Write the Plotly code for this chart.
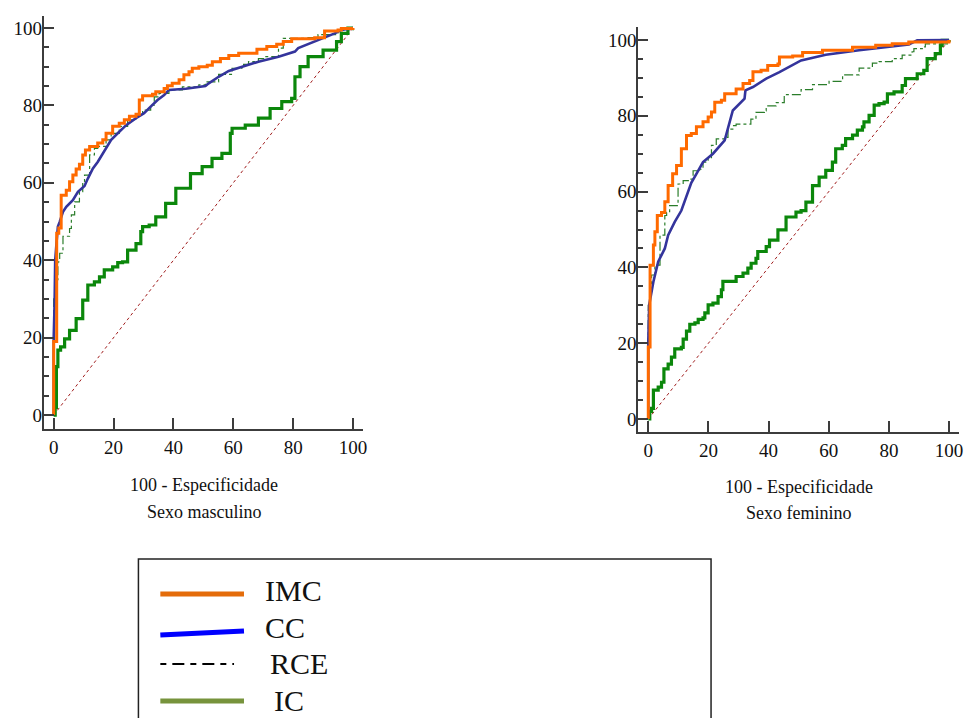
import plotly.graph_objects as go

# ---------------- data (sensitivity vs 100 - specificity) ----------------
tick_vals = [0, 20, 40, 60, 80, 100]
series_names = ["IMC", "CC", "RCE", "IC"]
diag_x = [0, 100]
diag_y = [0, 100]

# Sexo masculino
masc_imc_x = [0, 0, 1.0, 1.0, 1.7, 2.5, 4.2, 5.3, 6.4, 7.5, 8.6, 9.7, 10.6, 12.0, 14.7, 16.4, 17.5, 19.7, 21.9, 23.6,
              25.3, 27.5, 28.6, 29.7, 33.0, 34.1, 36.9, 38.0, 39.6, 41.9, 43.5, 45.2, 46.3, 48.5, 51.3, 53.0, 55.7, 58.5,
              61.8, 67.9, 71.2, 74.5, 76.7, 79.5, 87.2, 90.5, 95.0, 96.1, 100]
masc_imc_y = [0, 19, 19, 47, 48.3, 56.8, 58.1, 60.3, 62.0, 63.6, 64.8, 67.2, 68.5, 69.4, 70.3, 71.1, 72.8, 74.6, 75.4, 76.3,
              77.2, 77.7, 81.4, 82.5, 82.9, 83.5, 84.4, 85.1, 85.7, 86.6, 87.9, 88.7, 89.6, 90.0, 90.4, 91.3, 92.1, 92.9,
              93.5, 94.5, 95.2, 95.8, 96.5, 97.2, 97.5, 99.2, 99.5, 99.9, 100]
masc_cc_x = [0, 0, 0.3, 0.5, 1.0, 1.4, 2.0, 3.1, 4.2, 6.4, 8.1, 10.3, 11.4, 13.1, 14.7, 16.4, 18.1, 19.2, 21.4, 24.2,
             27.5, 30.2, 32.4, 34.7, 36.9, 38.5, 44.1, 50.7, 51.8, 55.1, 58.5, 62.9, 68.4, 75.1, 80.6, 81.7, 87.2, 93.9,
             96.1, 100]
masc_cc_y = [0, 20, 29, 40, 45, 48.7, 49.9, 52.5, 53.8, 55.5, 57.7, 59.2, 61.1, 63.7, 65.4, 67.6, 69.7, 71.1, 72.8, 74.9,
             76.7, 78.0, 79.7, 81.4, 82.7, 84.0, 84.3, 85.0, 85.7, 87.4, 88.9, 90.0, 91.3, 92.6, 93.9, 94.8, 96.5, 98.6,
             99.5, 100]
masc_rce_x = [0, 0, 0.3, 1.4, 2.0, 3.1, 3.1, 5.3, 5.9, 7.0, 8.6, 9.7, 10.3, 12.0, 13.6, 14.7, 17.5, 19.2, 21.9, 24.7,
              27.5, 29.7, 32.4, 33.6, 35.2, 38.5, 43.0, 48.5, 50.7, 55.1, 59.6, 62.9, 65.1, 68.4, 70.6, 75.1, 76.7, 85.0,
              88.3, 95.0, 100]
masc_rce_y = [0, 30, 35, 39.6, 41.8, 42.2, 46.2, 48.2, 51.7, 55.1, 57.7, 60.3, 62.0, 67.2, 68.9, 69.4, 71.1, 72.8, 74.6,
              76.3, 77.5, 78.8, 80.1, 82.2, 83.1, 84.0, 84.8, 85.3, 86.1, 88.0, 89.6, 90.6, 91.3, 92.1, 92.6, 94.8, 97.3,
              97.5, 98.3, 99.5, 100]
masc_ic_x = [0, 0.5, 0.9, 1.4, 2.3, 3.65, 5.3, 7.5, 9.7, 11.4, 13.6, 15.3, 16.9, 19.7, 21.4, 23.0, 24.7, 27.5, 29.1, 29.7,
             31.9, 34.1, 37.4, 40.8, 45.7, 49.6, 52.9, 56.2, 59.0, 59.6, 64.0, 68.4, 72.3, 76.2, 79.5, 80.6, 82.3, 85.0,
             90.0, 94.5, 96.1, 98.3, 100]
masc_ic_y = [0, 2, 12.5, 16.8, 17.6, 19.7, 21.9, 24.9, 29.7, 33.6, 34.4, 35.7, 37.5, 38.3, 39.4, 39.6, 42.6, 44.3, 47.4,
             48.7, 49.1, 51.2, 54.7, 58.6, 62.4, 64.2, 66.3, 67.6, 72.8, 74.1, 74.9, 76.7, 79.2, 81.0, 81.8, 87.4, 90.0,
             92.6, 94.3, 96.5, 98.6, 100, 100]

# Sexo feminino
fem_imc_x = [0, 0, 0.6, 0.6, 1.7, 2.2, 3.0, 4.4, 5.5, 6.6, 8.1, 9.4, 11.0, 12.7, 14.3, 16.0, 18.2, 19.9, 21.0, 22.1,
             24.3, 25.4, 29.2, 31.5, 33.7, 34.8, 37.5, 39.7, 43.1, 43.6, 48.0, 51.3, 57.9, 67.9, 75.6, 81.1, 86.6, 99.9, 100]
fem_imc_y = [0, 19, 19, 40.6, 45.9, 49.4, 53.7, 54.5, 57.3, 61.6, 64.7, 66.9, 71.3, 74.8, 75.3, 77.1, 78.4, 79.7, 81.0,
             83.6, 84.1, 85.8, 87.1, 88.5, 89.3, 91.6, 92.0, 93.3, 93.7, 95.5, 95.8, 96.7, 97.3, 98.1, 98.6, 99.0, 99.5,
             99.6, 100]
fem_cc_x = [0, 0, 0.3, 1.7, 3.3, 5.5, 6.6, 8.8, 11.0, 12.7, 14.3, 16.0, 18.2, 21.5, 25.4, 28.1, 32.0, 32.3, 34.8, 39.2,
            43.6, 50.8, 59.0, 70.1, 86.6, 89.4, 100]
fem_cc_y = [0, 20.4, 30.1, 36.2, 41.5, 45.0, 48.5, 52.0, 55.0, 58.6, 62.3, 64.7, 67.8, 70.0, 73.5, 81.4, 84.5, 86.7, 87.6,
            89.8, 91.5, 94.6, 96.1, 97.3, 98.8, 99.9, 100]
fem_rce_x = [0, 0, 0.6, 1.1, 2.2, 3.9, 3.9, 5.5, 6.1, 7.1, 9.9, 11.6, 13.8, 14.9, 17.1, 18.2, 19.9, 21.0, 22.6, 25.4,
             26.5, 28.1, 29.2, 34.1, 35.8, 38.6, 39.2, 42.5, 45.2, 50.8, 54.6, 60.1, 64.6, 70.1, 74.5, 76.7, 81.1, 84.4,
             87.7, 88.3, 91.1, 92.1, 99.9, 100]
fem_rce_y = [0, 30, 33.6, 38.0, 40.6, 45.0, 48.5, 53.7, 54.5, 56.3, 62.0, 62.9, 63.3, 65.5, 65.9, 67.8, 68.7, 72.2, 73.9,
             74.3, 76.5, 77.4, 77.8, 79.1, 80.9, 81.3, 82.6, 83.5, 85.6, 86.9, 88.2, 89.1, 90.8, 92.6, 93.9, 94.3, 95.1,
             96.0, 96.9, 97.7, 98.2, 99.0, 99.2, 100]
fem_ic_x = [0, 0.5, 1.1, 1.7, 3.3, 4.4, 5.2, 6.6, 7.7, 8.8, 11.0, 11.6, 12.7, 13.8, 15.5, 16.6, 18.2, 18.8, 19.9, 21.5,
            23.2, 24.3, 24.8, 28.1, 29.2, 31.5, 33.1, 34.2, 35.8, 36.4, 39.2, 40.3, 43.1, 45.8, 49.1, 50.8, 52.4, 54.6,
            56.8, 59.0, 61.2, 62.3, 64.5, 65.6, 67.9, 69.5, 71.2, 71.7, 73.4, 75.1, 76.7, 78.4, 79.5, 81.7, 84.4, 85.5,
            89.4, 91.6, 92.7, 95.4, 97.1, 97.7, 100]
fem_ic_y = [0, 2.0, 2.8, 7.6, 8.4, 9.7, 13.2, 14.5, 16.3, 18.5, 18.9, 21.1, 23.2, 25.0, 25.4, 26.3, 26.7, 28.0, 30.1, 30.6,
            32.3, 34.1, 36.3, 36.3, 37.6, 38.5, 39.8, 41.1, 42.4, 44.2, 45.5, 47.2, 49.9, 53.3, 54.6, 55.0, 57.2, 61.6,
            63.8, 65.6, 67.8, 71.3, 72.2, 74.0, 74.9, 76.2, 77.1, 78.4, 80.1, 82.8, 83.2, 83.6, 85.8, 86.3, 88.0, 89.8,
            91.1, 92.0, 95.1, 96.4, 98.6, 99.9, 100]

# ---------------- styling ----------------
W, H = 968, 718
FONT = "Liberation Serif, Times New Roman, serif"
AXC = "#3c3c3c"
C_IMC, C_CC, C_RCE, C_IC, C_DIAG = "#ff6a00", "#34349c", "#2a7d2a", "#0b870b", "#a01c1c"


def fx(p):
    return p / W


def fy(p):
    return 1 - p / H


fig = go.Figure()


def add_panel(xa, ya, imc, cc, rce, ic):
    kw = dict(xaxis=xa, yaxis=ya, mode="lines", showlegend=False, hoverinfo="skip")
    fig.add_trace(go.Scatter(x=diag_x, y=diag_y, line=dict(color=C_DIAG, width=1, dash="dot"), **kw))
    fig.add_trace(go.Scatter(x=ic[0], y=ic[1], name=series_names[3], line=dict(color=C_IC, width=3.2, shape="hv"), **kw))
    fig.add_trace(go.Scatter(x=rce[0], y=rce[1], name=series_names[2],
                             line=dict(color=C_RCE, width=1.2, dash="dashdot", shape="hv"), **kw))
    fig.add_trace(go.Scatter(x=cc[0], y=cc[1], name=series_names[1], line=dict(color=C_CC, width=2.6), **kw))
    fig.add_trace(go.Scatter(x=imc[0], y=imc[1], name=series_names[0], line=dict(color=C_IMC, width=3, shape="hv"), **kw))


add_panel("x", "y", (masc_imc_x, masc_imc_y), (masc_cc_x, masc_cc_y), (masc_rce_x, masc_rce_y), (masc_ic_x, masc_ic_y))
add_panel("x2", "y2", (fem_imc_x, fem_imc_y), (fem_cc_x, fem_cc_y), (fem_rce_x, fem_rce_y), (fem_ic_x, fem_ic_y))

xcommon = dict(showgrid=False, zeroline=False, showline=True, linecolor=AXC, linewidth=2,
               ticks="inside", ticklen=11, tickwidth=2, tickcolor=AXC,
               tickvals=tick_vals, tickfont=dict(family=FONT, size=19, color="#111"),
               ticklabelstandoff=0)
ycommon = dict(showgrid=False, zeroline=False, showline=True, linecolor=AXC, linewidth=2,
               ticks="inside", ticklen=10, tickwidth=2, tickcolor=AXC,
               tickvals=tick_vals, tickfont=dict(family=FONT, size=19, color="#111"),
               ticklabelstandoff=-4,
               minor=dict(ticks="inside", ticklen=5, tickwidth=1.5, tickcolor=AXC, dtick=5, showgrid=False))

fig.update_layout(
    width=W, height=H,
    margin=dict(l=0, r=0, t=0, b=0),
    paper_bgcolor="white", plot_bgcolor="white",
    font=dict(family=FONT, color="#111"),
    xaxis=dict(domain=[fx(44), fx(365)], range=[-3.3, 103.5], anchor="y", **xcommon),
    yaxis=dict(domain=[fy(429), fy(16)], range=[-3.6, 103.1], anchor="x", **ycommon),
    xaxis2=dict(domain=[fx(641), fx(963)], range=[-3.3, 103.3], anchor="y2", **xcommon),
    yaxis2=dict(domain=[fy(432), fy(27)], range=[-3.43, 103.43], anchor="x2", **ycommon),
)

# axis captions
captions = [
    (205, 485, "100 - Especificidade"), (205, 512, "Sexo masculino"),
    (802, 487, "100 - Especificidade"), (802, 513, "Sexo feminino"),
]
for cx, cy, txt in captions:
    fig.add_annotation(x=fx(cx), y=fy(cy), xref="paper", yref="paper", text=txt, showarrow=False,
                       xanchor="center", yanchor="middle", font=dict(family=FONT, size=18, color="#111"))

# legend box (drawn manually to match the original layout)
fig.add_shape(type="rect", xref="paper", yref="paper", x0=fx(139), x1=fx(714), y0=fy(725), y1=fy(559),
              line=dict(color="#222", width=1.5), fillcolor="rgba(0,0,0,0)")
legend_items = [
    ("IMC", "#e46c0a", None, 594, 594, 264, 590),
    ("CC", "#0000ff", None, 635, 631, 264, 627),
    ("RCE", "#000000", "6px,6px,12px,6px", 664, 664, 269, 663),
    ("IC", "#77933c", None, 701, 701, 273, 700),
]
for name, col, dash, ly0, ly1, tx, ty in legend_items:
    x1 = 245 if dash is None else 235
    fig.add_shape(type="line", xref="paper", yref="paper", x0=fx(161), x1=fx(x1), y0=fy(ly0), y1=fy(ly1),
                  line=dict(color=col, width=5 if dash is None else 2, dash=dash if dash else "solid"))
    fig.add_annotation(x=fx(tx), y=fy(ty), xref="paper", yref="paper", text=name, showarrow=False,
                       xanchor="left", yanchor="middle", font=dict(family=FONT, size=30, color="#111"))

fig.write_html("out.html", config={"displayModeBar": False},
               post_script="document.body.style.margin='0';document.body.style.overflow='hidden';")
